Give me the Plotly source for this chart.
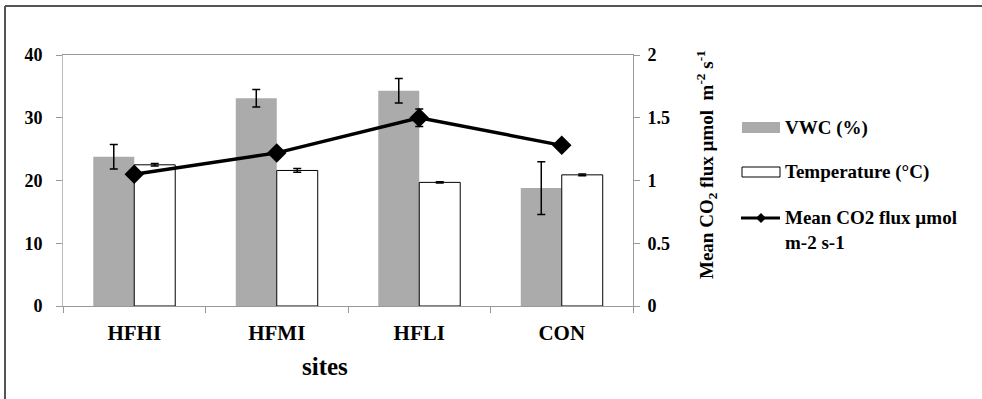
import plotly.graph_objects as go

sites = ["HFHI", "HFMI", "HFLI", "CON"]
vwc = [23.8, 33.1, 34.3, 18.8]
vwc_err = [1.95, 1.4, 1.95, 4.2]
temp = [22.5, 21.6, 19.7, 20.9]
temp_err = [0.2, 0.3, 0.1, 0.15]
co2 = [1.05, 1.22, 1.50, 1.28]
co2_err = [0.02, 0.02, 0.07, 0.02]

legend_labels = ["VWC (%)", "Temperature (°C)", "Mean CO2 flux µmol<br>m-2 s-1"]

FONT = "Liberation Serif"
L, R, T, B = 63, 633, 55, 306


def px(x):
    return (x - L) / (R - L)


def py(y):
    return (B - y) / (B - T)


fig = go.Figure()
fig.add_trace(go.Bar(
    x=sites, y=vwc, name=legend_labels[0],
    marker=dict(color="#ababab", line=dict(width=0)),
    error_y=dict(type="data", array=vwc_err, color="black", thickness=1.5, width=4),
))
fig.add_trace(go.Bar(
    x=sites, y=temp, name=legend_labels[1],
    marker=dict(color="white", line=dict(color="black", width=1)),
    error_y=dict(type="data", array=temp_err, color="black", thickness=1.5, width=4),
))
fig.add_trace(go.Scatter(
    x=sites, y=co2, name=legend_labels[2], yaxis="y2",
    mode="lines+markers",
    line=dict(color="black", width=3.5),
    marker=dict(symbol="diamond", size=15, color="black"),
    error_y=dict(type="data", array=co2_err, color="black", thickness=1.5, width=4),
))

tickfont = dict(family=FONT, size=18, color="black", weight="bold")
legfont = dict(family=FONT, size=19, color="black", weight="bold")

shapes = [
    # outer frame
    dict(type="line", xref="paper", yref="paper",
         x0=px(5), x1=px(990), y0=py(6), y1=py(6),
         line=dict(color="#555555", width=2)),
    dict(type="line", xref="paper", yref="paper",
         x0=px(5), x1=px(5), y0=py(6), y1=py(410),
         line=dict(color="#555555", width=2)),
    # legend swatches
    dict(type="rect", xref="paper", yref="paper",
         x0=px(742), x1=px(780), y0=py(122), y1=py(133),
         fillcolor="#ababab", line=dict(width=0)),
    dict(type="rect", xref="paper", yref="paper",
         x0=px(742), x1=px(780), y0=py(167), y1=py(177),
         fillcolor="white", line=dict(color="black", width=1)),
    dict(type="line", xref="paper", yref="paper",
         x0=px(741), x1=px(780), y0=py(218), y1=py(218),
         line=dict(color="black", width=3)),
    dict(type="path", xref="paper", yref="paper",
         path=f"M {px(761)} {py(213)} L {px(766)} {py(218)} L {px(761)} {py(223)} L {px(756)} {py(218)} Z",
         fillcolor="black", line=dict(width=0)),
]

annotations = [
    dict(text="sites", xref="paper", yref="paper", x=px(325), y=py(366),
         xanchor="center", yanchor="middle", showarrow=False,
         font=dict(family=FONT, size=25, color="black", weight="bold")),
    dict(text="Mean CO<sub>2</sub> flux µmol  m<sup>-2</sup> s<sup>-1</sup>",
         xref="paper", yref="paper", x=px(706), y=py(165), textangle=-90,
         xanchor="center", yanchor="middle", showarrow=False,
         font=dict(family=FONT, size=19, color="black", weight="bold")),
    dict(text=legend_labels[0], xref="paper", yref="paper", x=px(783), y=py(128),
         xanchor="left", yanchor="middle", showarrow=False, font=legfont),
    dict(text=legend_labels[1], xref="paper", yref="paper", x=px(783), y=py(172),
         xanchor="left", yanchor="middle", showarrow=False, font=legfont),
    dict(text=legend_labels[2], xref="paper", yref="paper", x=px(783), y=py(230),
         xanchor="left", yanchor="middle", align="left", showarrow=False, font=legfont),
]

fig.update_layout(
    width=982, height=399,
    margin=dict(l=L, r=982 - R, t=T, b=399 - B),
    paper_bgcolor="white", plot_bgcolor="white",
    barmode="group", bargap=0.425, bargroupgap=0,
    showlegend=False,
    xaxis=dict(
        type="category", showline=True, linecolor="#999999", linewidth=1,
        mirror=True, ticks="outside", tickson="boundaries", ticklen=6,
        tickcolor="#999999", tickfont=dict(family=FONT, size=21, color="black", weight="bold"),
        showgrid=False, ticklabelstandoff=8,
    ),
    yaxis=dict(
        range=[0, 40], dtick=10, showline=True, linecolor="#bbbbbb", linewidth=1,
        ticks="outside", ticklen=6, tickcolor="#999999", tickfont=tickfont,
        showgrid=False, zeroline=False, ticklabelstandoff=10,
    ),
    yaxis2=dict(
        range=[0, 2], dtick=0.5, overlaying="y", side="right",
        showline=True, linecolor="#999999", linewidth=1,
        ticks="outside", ticklen=6, tickcolor="#999999", tickfont=tickfont,
        showgrid=False, zeroline=False, ticklabelstandoff=4,
    ),
    shapes=shapes,
    annotations=annotations,
)

fig.write_html("out.html", post_script="document.body.style.margin='0';",
               config={"displayModeBar": False})
